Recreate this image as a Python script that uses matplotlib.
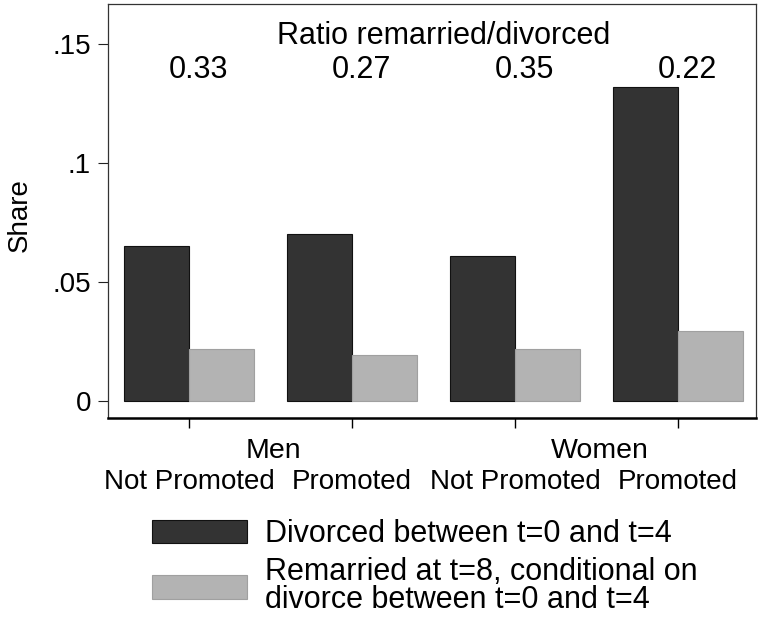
import numpy as np
import matplotlib.pyplot as plt

plt.rcParams['font.family'] = ['Liberation Sans', 'DejaVu Sans']

# data
groups = ['Men', 'Women']
categories = ['Not Promoted', 'Promoted', 'Not Promoted', 'Promoted']
divorced = [0.065, 0.070, 0.061, 0.132]
remarried = [0.0218, 0.0193, 0.0218, 0.0294]
ratios = ['0.33', '0.27', '0.35', '0.22']
yticks = [0, 0.05, 0.10, 0.15]
ytick_labels = ['0', '.05', '.1', '.15']
legend_labels = ['Divorced between t=0 and t=4',
                 'Remarried at t=8, conditional on\ndivorce between t=0 and t=4']

W, H = 758, 618
fig = plt.figure(figsize=(W / 100, H / 100), dpi=100)
ax = fig.add_axes([107.7 / W, 1 - 417.7 / H, (756 - 107.7) / W, (417.7 - 4) / H])

x = np.arange(len(categories))
width = 0.4
b1 = ax.bar(x - width / 2, divorced, width, color='#333333', edgecolor='#111111', linewidth=0.8)
b2 = ax.bar(x + width / 2, remarried, width, color='#b3b3b3', edgecolor='#a0a0a0', linewidth=0.8)

ax.set_xlim(-0.5, 3.48)
ax.set_ylim(-0.00714, 0.1668)

ax.set_yticks(yticks)
ax.set_yticklabels(ytick_labels, fontsize=20)
ax.set_xticks(x)
ax.set_xticklabels(categories, fontsize=20)
ax.tick_params(axis='y', length=7, width=0.8, pad=5, colors='#222222', labelcolor='black')
ax.tick_params(axis='x', length=7, width=1.0, pad=30, colors='black')

for side in ['left', 'top', 'right']:
    ax.spines[side].set_linewidth(0.9)
    ax.spines[side].set_color('#333333')
ax.spines['bottom'].set_linewidth(1.8)
ax.spines['bottom'].set_color('black')

ax.set_ylabel('Share', fontsize=20, va='center')
ax.yaxis.set_label_coords(-0.136, 0.49)

# group labels under the ticks
for i, g in enumerate(groups):
    ax.text(x[2 * i:2 * i + 2].mean() + 0.02, -0.08, g, transform=ax.get_xaxis_transform(),
            ha='center', va='center', fontsize=20.5)

# ratio annotations
ax.text(x.mean() + 0.06, 0.1535, 'Ratio remarried/divorced', ha='center', va='center', fontsize=22)
for xi, r in zip(x, ratios):
    ax.text(xi + 0.06, 0.139, r, ha='center', va='center', fontsize=22)

leg = fig.legend([b1, b2], legend_labels, loc='upper left',
                 bbox_to_anchor=(152 / W, 1 - 519 / H), frameon=False, fontsize=22,
                 handlelength=3.1, handleheight=0.8, handletextpad=0.6,
                 labelspacing=0.27, borderpad=0, borderaxespad=0)
for t in leg.get_texts():
    t.set_linespacing(0.9)

fig.savefig('out.png', dpi=100)
